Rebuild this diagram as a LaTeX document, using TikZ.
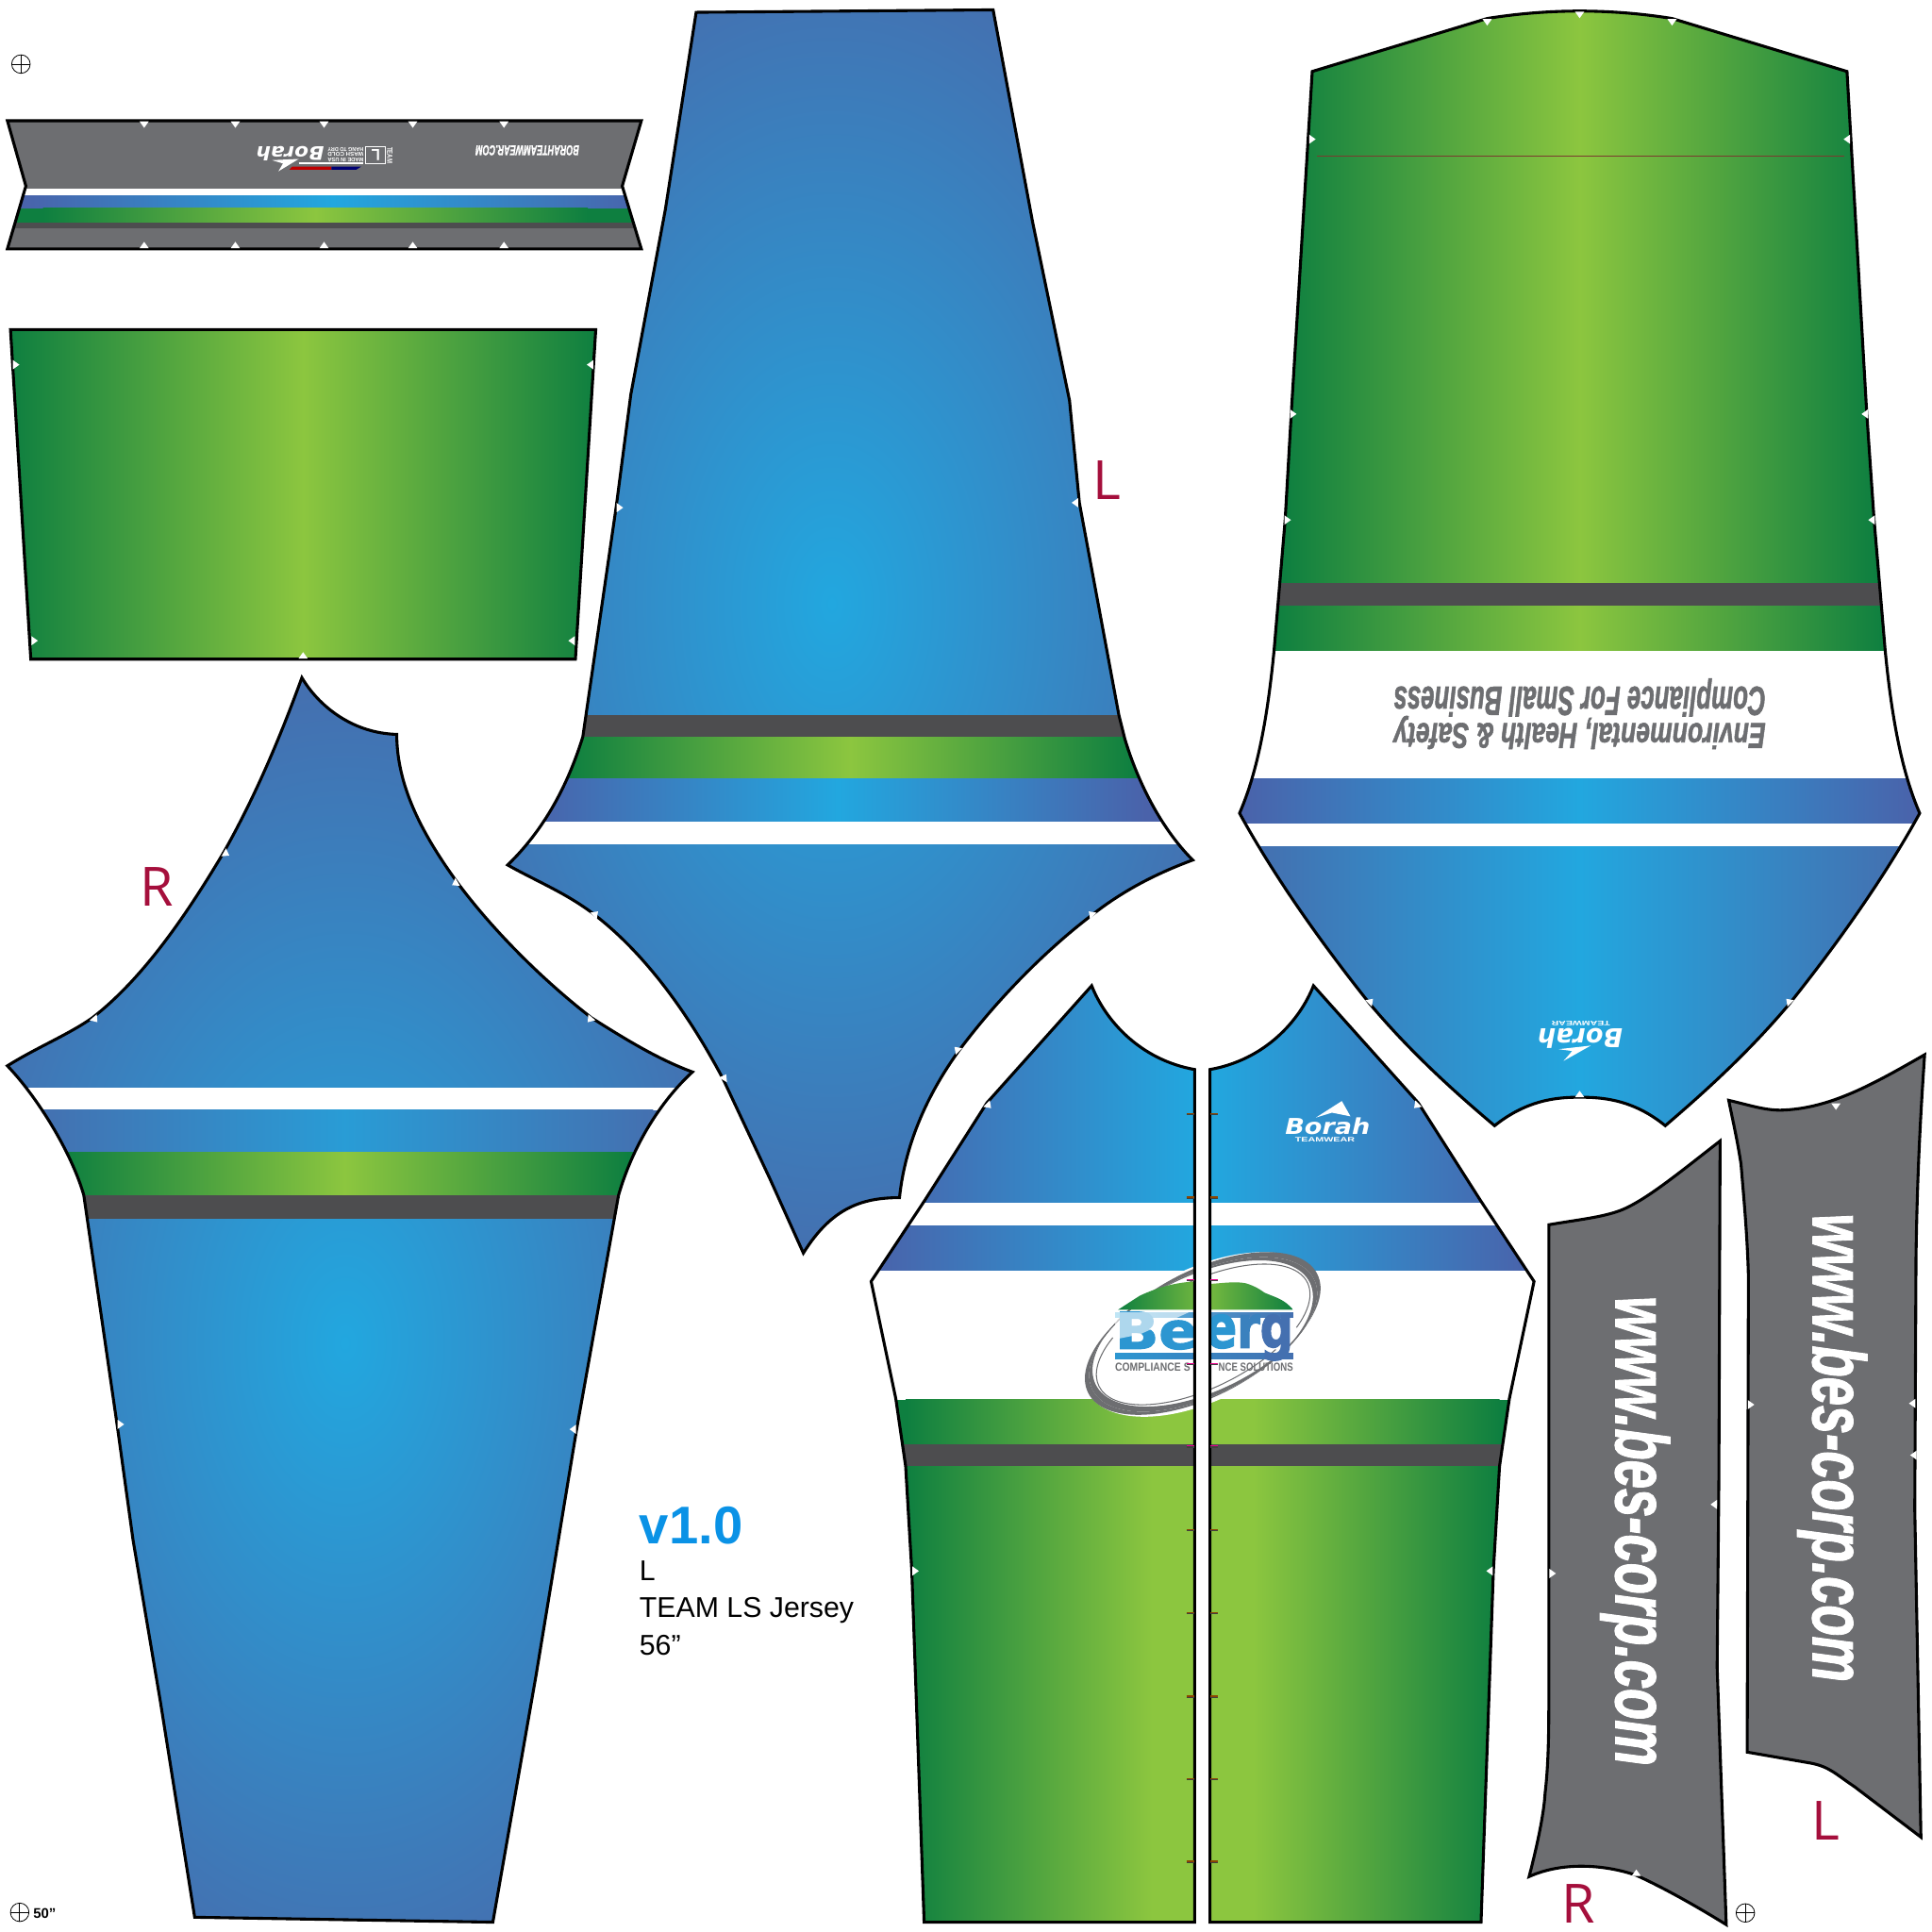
\documentclass[tikz,border=0pt]{standalone}
\usepackage{fontspec}
\usepackage{graphicx}
\setmainfont{Liberation Sans}
\newfontfamily\openf{Open Sans}
\newfontfamily\dejav{DejaVu Sans}
\newfontfamily\logof[BoldFeatures={FakeBold=2}]{DejaVu Sans}
\newfontfamily\urlf[BoldItalicFeatures={FakeBold=1.6}]{Liberation Sans}
\newlength\uu
\setlength\uu{.02cm}
\newcommand\fitbox[3]{\resizebox{#1\uu}{#2\uu}{#3}}
\definecolor{blueC}{HTML}{22A7DF}
\definecolor{blueE}{HTML}{4470B0}
\definecolor{blueB}{HTML}{4A62AA}
\definecolor{greenC}{HTML}{8CC63F}
\definecolor{greenE}{HTML}{0E7F40}
\definecolor{grayP}{HTML}{6D6E71}
\definecolor{grayD}{HTML}{4D4D4F}
\definecolor{redL}{HTML}{A50F3C}
\definecolor{verB}{HTML}{0A92E6}
\definecolor{lineR}{HTML}{7A3B2E}
\tikzset{
  outline/.style={draw=black,line width=1.35pt,line join=miter},
  lbl/.style={inner sep=0pt,outer sep=0pt},
  sizeL/.style={lbl,text=redL,font=\openf\fontsize{25}{25}\selectfont},
  reg/.style={draw=black,line width=.35pt},
  tk/.style={line width=.5pt}
}
\newcommand\hband[7]{\fill[#5] ({#1-70},#2) rectangle ({#1+1},#4); \fill[#7] ({#3-1},#2) rectangle ({#3+70},#4); \shade[left color=#5,right color=#7,middle color=#6] (#1,#2) rectangle (#3,#4);}
\newcommand\radblue[4]{\fill[blueE] ({#1-700},{#2-800}) rectangle ({#1+700},{#2+800}); \shade[inner color=blueC,outer color=blueE] ({#1-#3},{#2-#4}) rectangle ({#1+#3},{#2+#4});}
\newcommand\notchm[3]{\fill[white,shift={(#1,#2)},rotate=#3] (-.075cm,-.01cm) -- (.075cm,-.01cm) -- (0cm,.095cm) -- cycle;}
\newcommand\regm[2]{\draw[reg] (#1,#2) circle[radius=.15cm]; \draw[reg] ({#1-7.5},#2) -- ({#1+7.5},#2) (#1,{#2-7.5}) -- (#1,{#2+7.5});}
\newcommand\tick[2]{\draw[tk,draw=black!75] (963,#1+.4) -- (969.5,#1+.4) (982,#1+.4) -- (988.5,#1+.4); \draw[tk,draw=#2] (963,#1-.4) -- (969.5,#1-.4) (982,#1-.4) -- (988.5,#1-.4);}
\def\pCollar{(6,98) -- (520.5,98) -- (505,151) -- (520.5,202) -- (6,202) -- (21,151) -- cycle}
\def\pCuff{(8.5,267.5) -- (483.5,267.5) -- (467,535) -- (25,535) -- cycle}
\def\pSleeveL{(565,10) -- (806,8) -- (838,180) -- (868,325) -- (876,408) -- (908,580) -- (913,600) .. controls (922,630) and (940,670) .. (968,698) .. controls (930,712) and (905,728) .. (887,742) .. controls (850,770) and (810,810) .. (778,853) .. controls (755,885) and (735,925) .. (730,972) .. controls (700,972) and (675,980) .. (652,1017) -- (625,957) -- (587,876) .. controls (560,825) and (525,775) .. (482,742) .. controls (460,725) and (435,715) .. (412,702) .. controls (440,675) and (460,640) .. (473,598) -- (500,412) -- (512,320) -- (540,170) -- cycle}
\def\pSleeveR{(245,550) .. controls (258,572) and (285,595) .. (322,596) .. controls (322,640) and (345,680) .. (371,716) .. controls (400,755) and (440,795) .. (480,826) .. controls (510,845) and (535,860) .. (562,870) .. controls (540,890) and (515,925) .. (502,970) -- (468,1160) -- (435,1360) -- (400,1560) -- (158,1556) -- (130,1380) -- (108,1250) -- (95,1156) -- (68,970) .. controls (58,935) and (30,890) .. (6,865) .. controls (30,850) and (55,840) .. (75,826) .. controls (115,795) and (150,745) .. (182,691) .. controls (205,650) and (225,605) .. cycle}
\def\pBack{(1065,58) -- (1207,15) .. controls (1232,11) and (1257,9) .. (1282,9) .. controls (1307,9) and (1332,11) .. (1357,15) -- (1499,58) -- (1515,335) -- (1521,422) -- (1530,528) .. controls (1536,590) and (1545,630) .. (1558,660) .. controls (1535,702) and (1500,755) .. (1452,815) .. controls (1420,853) and (1385,885) .. (1351.5,913.6) .. controls (1325,892) and (1300,890.5) .. (1282,890.5) .. controls (1265,890.5) and (1240,892) .. (1213,913.6) .. controls (1179,885) and (1144,853) .. (1112,815) .. controls (1064,755) and (1029,702) .. (1006,660) .. controls (1019,630) and (1028,590) .. (1034,528) -- (1043,422) -- (1048,335) -- cycle}
\def\pFrontL{(886,800) .. controls (897,828) and (925,860) .. (969.5,868) -- (969.5,1560) -- (750,1560) -- (740,1275) -- (735,1190) -- (727,1135) -- (707,1040) -- (750,975) -- (801,895) -- cycle}
\def\pFrontR{(1066,800) .. controls (1055,828) and (1027,860) .. (982,868) -- (982,1560) -- (1202,1560) -- (1212,1275) -- (1217,1190) -- (1225,1135) -- (1245,1040) -- (1202,975) -- (1151,895) -- cycle}
\def\pSideR{(1257,994) .. controls (1280,990) and (1300,988) .. (1314.5,982.6) .. controls (1335,975) and (1365,950) .. (1396,926) -- (1395,1200) -- (1393.6,1353) -- (1401,1562) .. controls (1375,1546) and (1350,1532) .. (1328,1522) .. controls (1305,1514) and (1270,1510) .. (1241,1523) .. controls (1247,1500) and (1253,1473) .. (1254,1455) .. controls (1257,1430) and (1257,1400) .. (1257,1375) -- cycle}
\def\pSideL{(1403,893) .. controls (1420,897) and (1432,901) .. (1445,901) .. controls (1485,900) and (1520,880) .. (1562,856) .. controls (1559,900) and (1556,950) .. (1555,1020) -- (1554,1225) -- (1559,1491) -- (1505,1450) .. controls (1490,1440) and (1485,1434) .. (1470,1431) -- (1418,1422) -- (1419,1036) .. controls (1418,1000) and (1415,970) .. (1413,945) .. controls (1410,925) and (1406,908) .. cycle}
\begin{document}
\begin{tikzpicture}[x=.02cm,y=-.02cm]
\useasboundingbox (0,0) rectangle (1568,1568);
% collar
\begin{scope}
\clip \pCollar;
\fill[grayP] (0,90) rectangle (530,210);
\fill[white] (0,153) rectangle (530,159);
\hband{15}{159}{525}{169}{blueB}{blueC}{blueB}
\hband{35}{169}{477}{181}{greenE}{greenC}{greenE}
\fill[grayD] (0,181) rectangle (530,185.5);
\end{scope}
\draw[outline] \pCollar;
\foreach \x in {117,191,263,335,409} {\notchm{\x}{99}{180}\notchm{\x}{201}{0}}
\node[lbl,rotate=180,text=white] (collarurl) at (428,122) {\fitbox{84}{8}{\urlf\bfseries\itshape BORAHTEAMWEAR.COM}};
\node[lbl,rotate=180,text=white] (collarborah) at (235.5,124.5) {\fitbox{55}{11.5}{\dejav\bfseries\itshape Borah}};
\fill[white] (220.7,130) -- (242.5,129) -- (226,139) -- (229.7,132.7) -- cycle;
\node[lbl,rotate=180,text=white] (tagm) at (280.5,129.6) {\fitbox{29}{3.2}{\bfseries MADE IN USA}};
\node[lbl,rotate=180,text=white] (tagw) at (280.5,125.5) {\fitbox{29}{3.2}{\bfseries WASH  COLD}};
\node[lbl,rotate=180,text=white] (tagh) at (280.5,121.4) {\fitbox{29}{3.2}{\bfseries HANG TO DRY}};
\draw[white,line width=.5pt] (297,119) rectangle (312.7,132.6);
\node[lbl,rotate=180,text=white] (tagl) at (305,125.8) {\fitbox{7}{9}{\bfseries L}};
\node[lbl,rotate=-90,text=white] (tagt) at (316.3,126) {\fitbox{13}{4.3}{\bfseries TEAM}};
\draw[white,line width=.5pt] (242.5,132.4) -- (295,132.4);
\fill[red!75!black] (234.8,137.8) -- (237,135.3) -- (269,135.3) -- (269,137.8) -- cycle;
\fill[blue!45!black] (269,137.8) -- (269,135.3) -- (293,135.3) -- (289,137.8) -- cycle;
% cuff
\begin{scope}
\clip \pCuff;
\hband{8}{260}{484}{540}{greenE}{greenC}{greenE}
\end{scope}
\draw[outline] \pCuff;
\notchm{11}{296}{-90}\notchm{481}{296}{90}\notchm{26}{520}{-90}\notchm{466}{520}{90}\notchm{246}{534}{0}
% centre sleeve
\begin{scope}
\clip \pSleeveL;
\radblue{675}{490}{330}{530}
\fill[grayD] (400,580) rectangle (980,598);
\hband{460}{598}{920}{632}{greenE}{greenC}{greenE}
\hband{430}{632}{930}{667}{blueB}{blueC}{blueB}
\fill[white] (400,667) rectangle (980,685);
\end{scope}
\draw[outline] \pSleeveL;
\notchm{874.5}{408}{90}\notchm{501}{412}{-90}\notchm{482}{743}{-45}\notchm{887}{743}{45}\notchm{778}{853}{45}\notchm{587}{876}{-30}
% right sleeve
\begin{scope}
\clip \pSleeveR;
\radblue{280}{1090}{325}{530}
\fill[white] (0,883) rectangle (570,901);
\hband{30}{901}{530}{935}{blueE}{blueC!80!blueE}{blueE}
\hband{50}{935}{510}{970}{greenE}{greenC}{greenE}
\fill[grayD] (0,970) rectangle (570,989);
\end{scope}
\draw[outline] \pSleeveR;
\notchm{182}{692}{-120}\notchm{371}{716}{120}\notchm{76}{826}{-140}\notchm{480}{826}{140}\notchm{96}{1156}{-90}\notchm{467}{1160}{90}
% back
\begin{scope}
\clip \pBack;
\hband{1042}{0}{1522}{473}{greenE}{greenC}{greenE}
\fill[grayD] (1000,473) rectangle (1565,492);
\hband{1034}{492}{1530}{528}{greenE}{greenC}{greenE}
\fill[white] (1000,528) rectangle (1565,632);
\hband{1006}{632}{1558}{668}{blueB}{blueC}{blueB}
\fill[white] (1000,668) rectangle (1565,687);
\hband{1022}{687}{1542}{920}{blueE}{blueC}{blueE}
\end{scope}
\draw[outline] \pBack;
\draw[lineR,line width=.5pt] (1069,127) -- (1497,127);
\foreach \x/\y in {1207/16,1282/10,1357/16} {\notchm{\x}{\y}{180}}
\notchm{1063}{113}{-90}\notchm{1501}{113}{90}\notchm{1047.5}{336}{-90}\notchm{1515.5}{336}{90}\notchm{1043}{422}{-90}\notchm{1521}{422}{90}\notchm{1111}{814}{-45}\notchm{1453}{814}{45}\notchm{1282}{890}{0}
\node[lbl,rotate=180,text=grayP] (bk1) at (1282,566) {\fitbox{302}{24}{\urlf\bfseries\itshape Compliance For Small Business}};
\node[lbl,rotate=180,text=grayP] (bk2) at (1282,594.5) {\fitbox{302}{21}{\urlf\bfseries\itshape Environmental, Health \& Safety}};
\node[lbl,rotate=180,text=white] (bkb) at (1282.5,843) {\fitbox{69}{16}{\dejav\bfseries\itshape Borah}};
\node[lbl,rotate=180,text=white] (bkt) at (1283,830.3) {\fitbox{47.5}{3.6}{\bfseries TEAMWEAR}};
\fill[white] (1265,851.5) -- (1291,848.6) -- (1269,861) -- (1276,853) -- cycle;
% fronts
\begin{scope}
\clip \pFrontL;
\hband{707}{795}{1233}{976}{blueB}{blueC}{blueB}
\fill[white] (700,976) rectangle (975,995);
\hband{707}{995}{1233}{1031}{blueB}{blueC}{blueB}
\fill[white] (700,1031) rectangle (975,1136);
\hband{735}{1136}{1135}{1172}{greenE}{greenC}{greenC}
\fill[grayD] (700,1172) rectangle (975,1190);
\hband{735}{1190}{1135}{1565}{greenE}{greenC}{greenC}
\end{scope}
\begin{scope}
\clip \pFrontR;
\hband{719}{795}{1245}{976}{blueB}{blueC}{blueB}
\fill[white] (975,976) rectangle (1250,995);
\hband{719}{995}{1245}{1031}{blueB}{blueC}{blueB}
\fill[white] (975,1031) rectangle (1250,1136);
\hband{817}{1136}{1217}{1172}{greenC}{greenC}{greenE}
\fill[grayD] (975,1172) rectangle (1250,1190);
\hband{817}{1190}{1217}{1565}{greenC}{greenC}{greenE}
\end{scope}
% logo across the fronts
\begin{scope}[shift={(976.5,1083)},rotate=26.5,x=1cm,y=1cm]
\fill[white] (0,0) ellipse[x radius=2.09,y radius=1.07];
\fill[grayP,even odd rule] (0,0) ellipse[x radius=2.01,y radius=.98] (.085,.05) ellipse[x radius=2.01,y radius=.98];
\fill[grayP,even odd rule] (0,0) ellipse[x radius=2.01,y radius=.98] (-.085,-.015) ellipse[x radius=2.01,y radius=.98];
\draw[grayP,line width=.45pt] (135:1.89 and .86) arc[start angle=135,end angle=300,x radius=1.89,y radius=.86];
\draw[grayP,line width=.45pt] (108:1.89 and .86) arc[start angle=108,end angle=-42,x radius=1.89,y radius=.86];
\end{scope}
\shade[left color=greenE,right color=greenE,middle color=greenC!85!greenE] (907.4,1063) .. controls (915,1058) and (925,1051.6) .. (925,1051.6) .. controls (935,1047) and (950,1041) .. (970,1040) -- (982.5,1042) .. controls (995,1041) and (1003,1040) .. (1010.7,1041.4) .. controls (1020,1044) and (1026,1049) .. (1026,1049) .. controls (1035,1053) and (1042,1054) .. (1049.5,1063) -- cycle;
\shade[left color=blueC!75!white,right color=blueE] (905,1065) rectangle (1049.5,1069.5);
\shade[left color=blueC!70!blueE,right color=blueE] (905,1098.5) rectangle (1049.5,1102.6);
\node[lbl,text=blueC!70!blueE] (logoa) at (938.5,1080) {\fitbox{67}{30}{\logof\bfseries Be}};
\node[lbl] (logob) at (1014,1085.5) {\fitbox{71.5}{27}{\logof\bfseries\textcolor{blueC!70!blueE}{e}\textcolor{blueC!30!blueE}{r}\textcolor{blueE}{g}}};
\fill[white,opacity=.62] (905,1065) -- (965,1065) -- (925,1083) -- (905,1087) -- cycle;
\node[lbl,text=grayP] (logoc) at (935.5,1109.3) {\fitbox{61}{6.6}{\bfseries COMPLIANCE S}};
\node[lbl,text=grayP] (logod) at (1019.2,1109.3) {\fitbox{60.5}{6.6}{\bfseries NCE SOLUTIONS}};
\fill[white] (969.5,1000) rectangle (982,1200);
\draw[outline] \pFrontL;
\draw[outline] \pFrontR;
\tick{904}{orange!55!black}\tick{972}{orange!55!black}\tick{1039}{magenta}\tick{1107}{magenta}\tick{1174}{magenta}
\tick{1242}{orange!55!black}\tick{1309}{orange!55!black}\tick{1377}{orange!55!black}\tick{1444}{orange!55!black}\tick{1511}{orange!55!black}
\notchm{801}{896}{-135}\notchm{1151}{896}{135}\notchm{741}{1275}{-90}\notchm{1211}{1275}{90}
\node[lbl,text=white] (frb) at (1077.5,914.2) {\fitbox{69}{13.5}{\dejav\bfseries\itshape Borah}};
\node[lbl,text=white] (frt) at (1075.3,925.2) {\fitbox{48.5}{3.6}{\bfseries TEAMWEAR}};
\fill[white] (1068,907) -- (1089,893.6) -- (1096,906) -- (1081,903) -- cycle;
% side panels
\fill[grayP] \pSideR;
\draw[outline] \pSideR;
\fill[grayP] \pSideL;
\draw[outline] \pSideL;
\notchm{1258}{1277}{-90}\notchm{1393}{1221}{90}\notchm{1419}{1140}{-90}\notchm{1555}{1181}{90}\notchm{1490}{896}{180}\notchm{1328}{1522}{0}\notchm{1554}{1139}{90}
\node[lbl,rotate=-90,text=white] (urlr) at (1327,1242.5) {\fitbox{381}{44}{\urlf\bfseries\itshape www.bes-corp.com}};
\node[lbl,rotate=-90,text=white] (urll) at (1487,1175) {\fitbox{380}{44}{\urlf\bfseries\itshape www.bes-corp.com}};
% size labels
\node[sizeL] (ll1) at (898,390) {L};
\node[sizeL] (lr1) at (127,720) {R};
\node[sizeL] (ll2) at (1482,1478) {L};
\node[sizeL] (lr2) at (1281,1545) {R};
% version
\node[lbl,anchor=west,text=verB,font=\bfseries\fontsize{24.5}{24.5}\selectfont] (ver) at (519,1238) {v1.0};
\node[lbl,anchor=west,font=\fontsize{13.2}{13.2}\selectfont] (vl) at (519,1275) {L};
\node[lbl,anchor=west,font=\fontsize{13.2}{13.2}\selectfont] (vt) at (519,1307) {TEAM LS Jersey};
\node[lbl,anchor=west,font=\fontsize{13.2}{13.2}\selectfont] (vs) at (519,1335) {56”};
\node[lbl,anchor=west,font=\bfseries\fontsize{6.5}{6.5}\selectfont] (fifty) at (27,1553) {50”};
\regm{17}{52}
\regm{16}{1552}
\regm{1416.5}{1552.5}
\end{tikzpicture}
\end{document}
